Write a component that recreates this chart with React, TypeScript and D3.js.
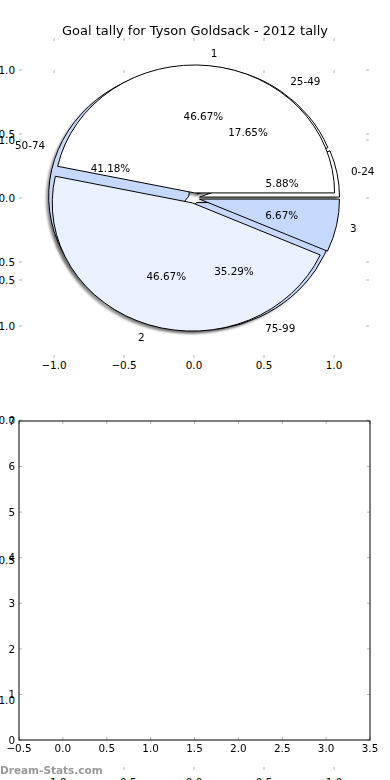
import React from 'react';
import * as d3 from 'd3';

const TITLE = 'Goal tally for Tyson Goldsack - 2012 tally';
const WATERMARK = 'Dream-Stats.com';

// goals per game pie
const goalLabels = ['1', '2', '3'];
const goalCounts = [7, 7, 1];
// minutes of the goal pie
const minuteLabels = ['0-24', '25-49', '50-74', '75-99'];
const minuteCounts = [1, 3, 7, 6];

const pieTicks = [-1, -0.5, 0, 0.5, 1];
const barXTicks = [-0.5, 0, 0.5, 1, 1.5, 2, 2.5, 3, 3.5];
const barYTicks = [0, 1, 2, 3, 4, 5, 6, 7];

const goalColors = ['#ffffff', '#eaf1fe', '#c6d9fd'];
const minuteColors = ['#ffffff', '#ffffff', '#c6d9fd', '#c6d9fd'];

const W = 390;
const H = 780;
const FONT = 'DejaVu Sans, sans-serif';
const TICK = '#b4b4b4';
const EXPLODE = 0.04;

const x = d3.scaleLinear().domain([-1.25, 1.25]).range([19, 369]);
const yTop = d3.scaleLinear().domain([-1.25, 1.25]).range([358, 38]);
const ySecond = d3.scaleLinear().domain([-1.25, 1.25]).range([770, 70]);
const xBar = d3.scaleLinear().domain([-0.5, 3.5]).range([19, 370]);
const yBar = d3.scaleLinear().domain([0, 7]).range([740, 421]);

// matplotlib style: start at 3 o'clock, counter clockwise
const pieGen = d3.pie<number>().sort(null).startAngle(Math.PI / 2).endAngle(Math.PI / 2 - 2 * Math.PI);
const arcGen = d3.arc<d3.PieArcDatum<number>>().innerRadius(0).outerRadius(1);

const fmtPct = d3.format('.2f');

function buildSlices(values: number[], labels: string[], colors: string[]) {
  const total = d3.sum(values);
  return pieGen(values).map((d, i) => {
    const mid = (d.startAngle + d.endAngle) / 2;
    const ox = EXPLODE * Math.sin(mid);
    const oy = EXPLODE * Math.cos(mid);
    return {
      path: arcGen(d) as string,
      ox,
      oy,
      mid,
      label: labels[i],
      pct: fmtPct((values[i] / total) * 100) + '%',
      color: colors[i],
    };
  });
}

const goalSlices = buildSlices(goalCounts, goalLabels, goalColors);
const minuteSlices = buildSlices(minuteCounts, minuteLabels, minuteColors);
const sx = x(1) - x(0);
const sy = yTop(0) - yTop(1);

type Slice = ReturnType<typeof buildSlices>[number];

const Wedges = ({ slices }: { slices: Slice[] }) => (
  <g>
    {slices.map((s, i) => (
      <path
        key={i}
        d={s.path}
        transform={`translate(${x(s.ox)},${yTop(s.oy)}) scale(${sx},${sy})`}
        fill={s.color}
        stroke="#000"
        strokeWidth={1}
        vectorEffect="non-scaling-stroke"
      />
    ))}
  </g>
);

const Shadows = ({ slices }: { slices: Slice[] }) => (
  <g filter="url(#blur)">
    {slices.map((s, i) => (
      <path
        key={i}
        d={s.path}
        transform={`translate(${x(s.ox - 0.02)},${yTop(s.oy - 0.02)}) scale(${sx},${sy})`}
        fill="#4d4d4d"
        fillOpacity={0.55}
      />
    ))}
  </g>
);

const SliceText = ({ slices }: { slices: Slice[] }) => (
  <g fontFamily={FONT} fontSize={10.4} fill="#000">
    {slices.map((s, i) => {
      const lx = s.ox + 1.1 * Math.sin(s.mid);
      const ly = s.oy + 1.1 * Math.cos(s.mid);
      const px = s.ox + 0.6 * Math.sin(s.mid);
      const py = s.oy + 0.6 * Math.cos(s.mid);
      return (
        <g key={i}>
          <text x={x(lx)} y={yTop(ly)} dy="0.36em" textAnchor={lx > 0 ? 'start' : 'end'}>
            {s.label}
          </text>
          <text x={x(px)} y={yTop(py)} dy="0.36em" textAnchor="middle">
            {s.pct}
          </text>
        </g>
      );
    })}
  </g>
);

// ticks pointing inward on all four sides, labels left and bottom
function AxisTicks({
  xs, ys, xScale, yScale, left, right, top, bottom, xFmt, yFmt, xLabelY,
}: {
  xs: number[]; ys: number[];
  xScale: (v: number) => number; yScale: (v: number) => number;
  left: number; right: number; top: number; bottom: number;
  xFmt: (v: number) => string; yFmt: (v: number) => string; xLabelY: number;
}) {
  const len = 3;
  return (
    <g>
      <g stroke={TICK} strokeWidth={1}>
        {xs.map((v, i) => (
          <g key={'x' + i}>
            <line x1={xScale(v)} x2={xScale(v)} y1={top} y2={top + len} />
            <line x1={xScale(v)} x2={xScale(v)} y1={bottom} y2={bottom - len} />
          </g>
        ))}
        {ys.map((v, i) => (
          <g key={'y' + i}>
            <line x1={left} x2={left + len} y1={yScale(v)} y2={yScale(v)} />
            <line x1={right} x2={right - len} y1={yScale(v)} y2={yScale(v)} />
          </g>
        ))}
      </g>
      <g fontFamily={FONT} fontSize={10.4} fill="#000">
        {xs.map((v, i) => (
          <text key={'xl' + i} x={xScale(v)} y={xLabelY} textAnchor="middle">
            {xFmt(v)}
          </text>
        ))}
        {ys.map((v, i) => (
          <text key={'yl' + i} x={left - 4} y={yScale(v)} dy="0.36em" textAnchor="end">
            {yFmt(v)}
          </text>
        ))}
      </g>
    </g>
  );
}

const fmt1 = (v: number) => d3.format('.1f')(v).replace('-', '\u2212');
const fmt0 = (v: number) => String(v);

export default function App() {
  return (
    <svg
      width={W}
      height={H}
      viewBox={`0 0 ${W} ${H}`}
      style={{ position: 'absolute', left: 0, top: 0, background: '#fff' }}
    >
      <defs>
        <filter id="blur" x="-10%" y="-10%" width="120%" height="120%">
          <feGaussianBlur stdDeviation={0.9} />
        </filter>
      </defs>
      <rect x={0} y={0} width={W} height={H} fill="#fff" />

      {/* second (empty) pie axes behind */}
      <AxisTicks
        xs={pieTicks} ys={pieTicks} xScale={x} yScale={ySecond}
        left={19} right={369} top={70} bottom={770}
        xFmt={fmt1} yFmt={fmt1} xLabelY={786}
      />

      {/* pie axes */}
      <AxisTicks
        xs={pieTicks} ys={pieTicks} xScale={x} yScale={yTop}
        left={19} right={369} top={38} bottom={358}
        xFmt={fmt1} yFmt={fmt1} xLabelY={369}
      />
      <Shadows slices={minuteSlices} />
      <Shadows slices={goalSlices} />
      <Wedges slices={minuteSlices} />
      <Wedges slices={goalSlices} />
      <SliceText slices={minuteSlices} />
      <SliceText slices={goalSlices} />
      <text x={195} y={30} dy="0.36em" textAnchor="middle" fontFamily={FONT} fontSize={13}>
        {TITLE}
      </text>

      {/* empty bar axes */}
      <rect x={19} y={421} width={351} height={319} fill="#fff" />
      <AxisTicks
        xs={barXTicks} ys={barYTicks} xScale={xBar} yScale={yBar}
        left={19} right={370} top={421} bottom={740}
        xFmt={fmt1} yFmt={fmt0} xLabelY={752}
      />
      <rect x={19} y={421} width={351} height={319} fill="none" stroke="#000" strokeWidth={1} />

      <text x={0} y={774} fontFamily={FONT} fontSize={10.5} fontWeight="bold" fill="#999">
        {WATERMARK}
      </text>
    </svg>
  );
}
